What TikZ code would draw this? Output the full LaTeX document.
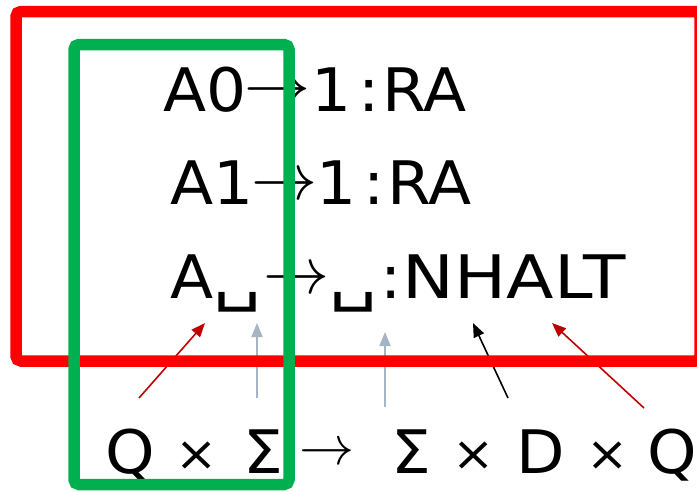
\documentclass[tikz,border=0pt]{standalone}
\usepackage{fontspec}
\usepackage{graphicx}
\setmainfont[FakeStretch=1.05]{DejaVu Sans}
\usetikzlibrary{arrows.meta}
\definecolor{frameRed}{HTML}{FF0000}
\definecolor{frameGreen}{HTML}{00B050}
\definecolor{darkRed}{HTML}{C00000}
\definecolor{blueGray}{HTML}{A6B5C5}
\newcommand{\maparrow}[1]{\scalebox{#1}{$\rightarrow$}}
\tikzset{
  big/.style={inner sep=0pt, font=\fontsize{60}{72}\selectfont},
  tok/.style={big, anchor=base west},
  ctok/.style={big, anchor=base},
  times/.style={inner sep=0pt, anchor=base, font=\fontsize{48}{56}\selectfont},
  arr/.style={inner sep=0pt, font=\normalsize},
  pointer/.style={line width=1.6pt, -{Triangle[length=14pt,width=11pt]}},
}
\begin{document}
\begin{tikzpicture}[x=1pt, y=-1pt]
\useasboundingbox (0,0) rectangle (697,491);

% transition rules
\node[tok] (a0) at (163,111) {A0};
\node[arr] (m0) at (277.5,93) {\maparrow{6.6}};
\node[tok] (r0) at (311,111) {1\kern7pt:\kern3pt RA};

\node[tok] (a1) at (170,204) {A1};
\node[arr] (m1) at (284.5,187) {\maparrow{6.6}};
\node[tok] (r1) at (316,204) {1\kern7pt:\kern3pt RA};

\node[tok] (ab) at (170,298) {A};
\node[ctok] (b1) at (237.5,298) {\scalebox{1.2}[1]{␣}};
\node[arr] (mb) at (296,281) {\maparrow{6.6}};
\node[ctok] (b2) at (353.5,298) {\scalebox{1.2}[1]{␣}};
\node[tok] (rb) at (380.5,298) {:\kern1pt\scalebox{1.1}[1]{NHALT}};

% signature of the transition function
\node[ctok] (q1) at (130.5,473) {Q};
\node[times] (x1) at (197,470) {×};
\node[ctok] (s1) at (263,473) {Σ};
\node[arr] (mf) at (326.5,454) {\maparrow{5.5}};
\node[ctok] (s2) at (411,473) {Σ};
\node[times] (x2) at (474,470) {×};
\node[ctok] (d)  at (541,473) {D};
\node[times] (x3) at (607.5,470) {×};
\node[ctok] (q2) at (672,473) {Q};

% pointers from the signature to the parts of a rule
\coordinate (q1o) at (139,398);  \coordinate (q1t) at (205,323);
\coordinate (s1o) at (257,398);  \coordinate (s1t) at (257,323);
\coordinate (s2o) at (385,407);  \coordinate (s2t) at (385,332);
\coordinate (do)  at (508,398);  \coordinate (dt)  at (473,323);
\coordinate (q2o) at (644,408);  \coordinate (q2t) at (552,323);
\draw[pointer, darkRed] (q1o) -- (q1t);
\draw[pointer, blueGray, line width=2pt] (s1o) -- (s1t);
\draw[pointer, blueGray, line width=2pt] (s2o) -- (s2t);
\draw[pointer, black] (do) -- (dt);
\draw[pointer, darkRed] (q2o) -- (q2t);

% frames
\draw[frameRed, line width=11.5pt, rounded corners=5pt] (16,11.5) rectangle (700,361);
\draw[frameGreen, line width=11.5pt, rounded corners=5pt] (74,44.5) rectangle (289,484.5);
\end{tikzpicture}
\end{document}
